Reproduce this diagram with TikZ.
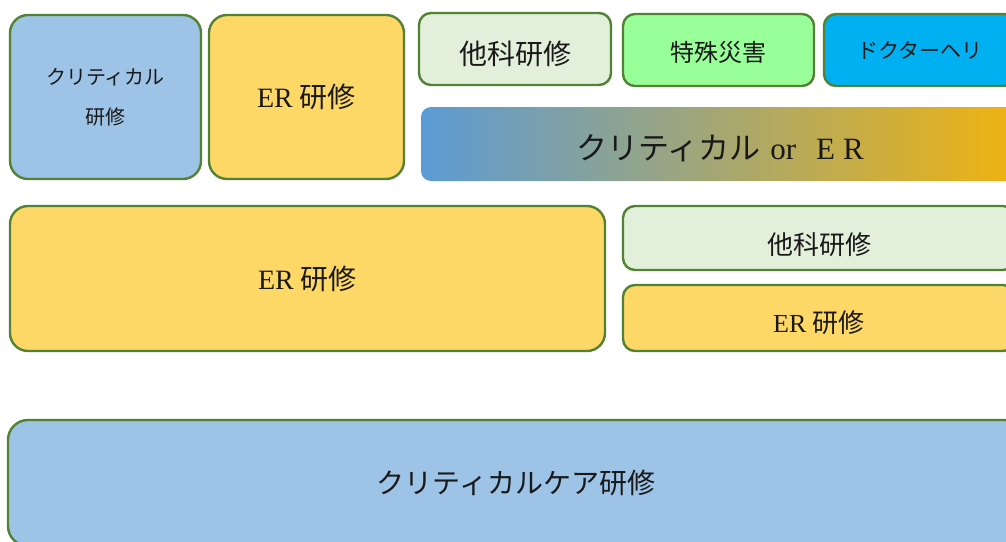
\documentclass[tikz,border=0pt]{standalone}
\usepackage{fontspec}
\setmainfont{Liberation Serif}
\newfontfamily\jp{Noto Sans CJK JP}
\definecolor{rim}{HTML}{548235}
\definecolor{critblue}{HTML}{9DC3E6}
\definecolor{eryellow}{HTML}{FDD866}
\definecolor{otherpale}{HTML}{E2EFDA}
\definecolor{disgreen}{HTML}{99FF99}
\definecolor{helicyan}{HTML}{00B0F0}
\definecolor{mixleft}{HTML}{5B9BD5}
\definecolor{mixmid}{HTML}{CCCFAE}
\definecolor{mixright}{HTML}{F0B30F}
% lower a label inside its box, keeping the box size
\newcommand\drop[2]{\raisebox{-#1}[\height][\depth]{#2}}
\begin{document}
\begin{tikzpicture}[
  x=1pt, y=-1pt,
  every node/.style={inner sep=0pt, align=center, text=black!90},
  block/.style={draw=rim, line width=2.4pt, rounded corners=#1},
  block/.default=18pt,
  crit/.style={block, fill=critblue},
  er/.style={block, fill=eryellow},
  other/.style={block=12pt, fill=otherpale}
]
\useasboundingbox (0,0) rectangle (1006,541);
\clip (0,0) rectangle (1006,541);
% top row, left
\node[crit, minimum width=191pt, minimum height=164pt, font=\fontsize{20}{40}\selectfont]
  (crit) at (105.5,97) {\jp クリティカル\\\jp 研修};
\node[er, minimum width=195pt, minimum height=164pt, font=\fontsize{28}{32}\selectfont]
  (er) at (306.5,97) {ER {\jp 研修}};
% top row, right
\node[other, minimum width=192pt, minimum height=72pt, font=\fontsize{28}{32}\selectfont]
  (other) at (515,49) {\drop{5pt}{\jp 他科研修}};
\node[block=12pt, fill=disgreen, minimum width=191pt, minimum height=72pt, font=\fontsize{24}{28}\selectfont]
  (disaster) at (718.5,50) {\drop{2pt}{\jp 特殊災害}};
\node[block=12pt, fill=helicyan, minimum width=192pt, minimum height=72pt, font=\fontsize{21}{24}\selectfont]
  (heli) at (920,50) {\jp ドクターヘリ};
\node[rounded corners=10pt, left color=mixleft, middle color=mixmid, right color=mixright,
  minimum width=598pt, minimum height=74pt, font=\fontsize{31}{35}\selectfont]
  (mix) at (720,144) {\drop{4pt}{{\jp クリティカル}\hspace{10pt}or\hspace{20pt}E\hspace{8pt}R}};
% middle row
\node[er, minimum width=595pt, minimum height=145pt, font=\fontsize{28}{32}\selectfont]
  (erwide) at (307.5,278.5) {ER {\jp 研修}};
\node[other, minimum width=392pt, minimum height=64pt, font=\fontsize{26}{30}\selectfont]
  (otherR) at (819,238) {\drop{7pt}{\jp 他科研修}};
\node[er, block=12pt, minimum width=392pt, minimum height=66pt, font=\fontsize{26}{30}\selectfont]
  (erR) at (819,318) {\drop{5pt}{ER {\jp 研修}}};
% bottom row
\node[crit, block=20pt, minimum width=1016pt, minimum height=126pt, font=\fontsize{28}{32}\selectfont]
  (critcare) at (516,483) {\jp クリティカルケア研修};
\end{tikzpicture}
\end{document}
